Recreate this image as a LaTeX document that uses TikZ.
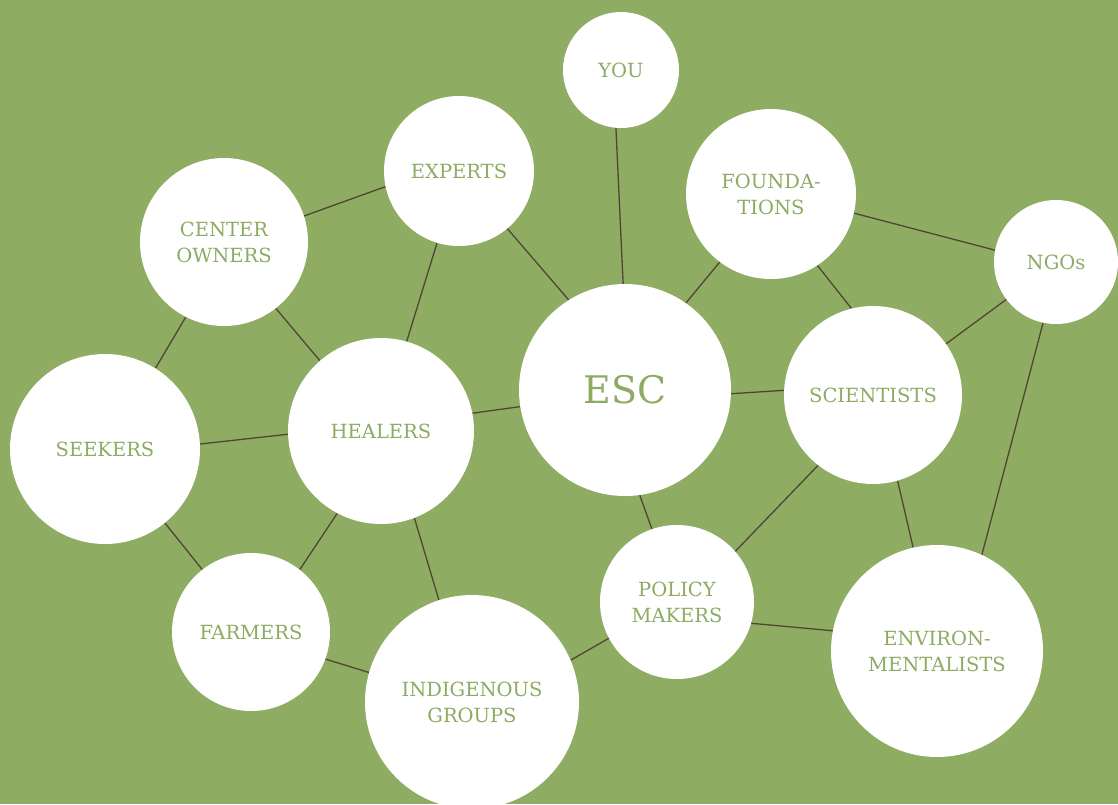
\documentclass[tikz,border=0pt]{standalone}
\usepackage{fontspec}
\setmainfont{DejaVu Serif}
\pgfdeclarelayer{bg}
\pgfdeclarelayer{edges}
\pgfsetlayers{bg,edges,main}
\definecolor{bggreen}{HTML}{8FAC63}
\definecolor{txtgreen}{HTML}{8DAB62}
\definecolor{edgebrown}{HTML}{524535}
\tikzset{
  blob/.style={circle, fill=white, inner sep=0pt, text=txtgreen, align=center,
    font=\fontsize{19.5}{26}\selectfont, minimum size=#1},
  link/.style={draw=edgebrown, line width=1.3pt}
}
\begin{document}
\begin{tikzpicture}[x=1pt,y=-1pt]
\begin{pgfonlayer}{bg}
\fill[bggreen] (0,0) rectangle (1118,804);
\end{pgfonlayer}
\useasboundingbox (0,0) rectangle (1118,804);
\node[blob=116pt] (you) at (621,70) {YOU};
\node[blob=150pt] (experts) at (459,171) {EXPERTS};
\node[blob=170pt] (found) at (771,194) {FOUNDA-\\TIONS};
\node[blob=124pt] (ngos) at (1056,262) {NGOs};
\node[blob=168pt] (center) at (224,242) {CENTER\\OWNERS};
\node[blob=212pt, font=\fontsize{38}{40}\selectfont] (esc) at (625,390) {ESC};
\node[blob=178pt] (sci) at (873,395) {SCIENTISTS};
\node[blob=186pt] (healers) at (381,431) {HEALERS};
\node[blob=190pt] (seekers) at (105,449) {SEEKERS};
\node[blob=158pt] (farmers) at (251,632) {FARMERS};
\node[blob=154pt] (policy) at (677,602) {POLICY\\MAKERS};
\node[blob=214pt] (indig) at (472,702) {INDIGENOUS\\GROUPS};
\node[blob=212pt] (env) at (937,651) {ENVIRON-\\MENTALISTS};
\begin{pgfonlayer}{edges}
\draw[link] (you.-95) -- (esc.91);
\draw[link] (experts.192) -- (center.18);
\draw[link] (experts.-50) -- (esc.122);
\draw[link] (experts.-107) -- (healers.74);
\draw[link] (found.-13) -- (ngos.169);
\draw[link] (found.-127) -- (esc.55);
\draw[link] (found.-57) -- (sci.104);
\draw[link] (ngos.-143) -- (sci.35);
\draw[link] (ngos.-102) -- (env.65);
\draw[link] (center.-117) -- (seekers.58);
\draw[link] (center.-52) -- (healers.131);
\draw[link] (esc.189) -- (healers.11);
\draw[link] (esc.-2) -- (sci.177);
\draw[link] (esc.-82) -- (policy.109);
\draw[link] (sci.-128) -- (policy.41);
\draw[link] (sci.-74) -- (env.103);
\draw[link] (healers.182) -- (seekers.3);
\draw[link] (healers.-118) -- (farmers.52);
\draw[link] (healers.-69) -- (indig.108);
\draw[link] (seekers.-51) -- (farmers.128);
\draw[link] (farmers.-20) -- (indig.164);
\draw[link] (indig.23) -- (policy.208);
\draw[link] (policy.-16) -- (env.169);
\end{pgfonlayer}
\end{tikzpicture}
\end{document}
